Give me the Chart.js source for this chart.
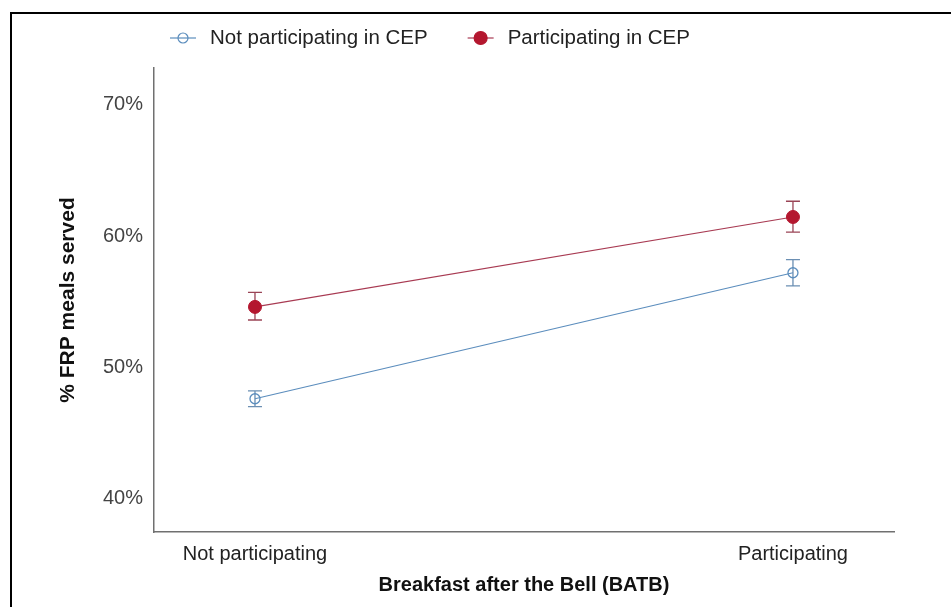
<!DOCTYPE html>
<html>
<head>
<meta charset="utf-8">
<script src="https://cdn.jsdelivr.net/npm/chart.js@4/dist/chart.umd.min.js"></script>
<style>
  html, body { margin: 0; padding: 0; background: #fff; }
  #wrap { position: relative; width: 951px; height: 607px; overflow: hidden; }
  #frame { position: absolute; left: 10px; top: 12px; width: 951px; height: 607px;
           border-top: 2px solid #000; border-left: 2px solid #000; box-sizing: border-box; }
  canvas { position: absolute; left: 0; top: 0; }
</style>
</head>
<body>
<div id="wrap">
  <div id="frame"></div>
  <canvas id="c" width="951" height="607"></canvas>
</div>
<script>
// ---- data ----
const categories = ['Not participating', 'Participating'];
const seriesLabels = ['Not participating in CEP', 'Participating in CEP'];
const notCEP      = [47.6, 57.2];
const notCEPLow   = [47.0, 56.2];
const notCEPHigh  = [48.2, 58.2];
const cep         = [54.6, 61.45];
const cepLow      = [53.6, 60.3];
const cepHigh     = [55.7, 62.65];
const yTicks      = [40, 50, 60, 70];
const xAxisTitle  = 'Breakfast after the Bell (BATB)';
const yAxisTitle  = '% FRP meals served';

const BLUE = '#5b8dbd';
const BLUE_ERR = '#6b8fb3';
const RED = '#b4172f';
const RED_LINE = '#a83a52';
const RED_ERR = '#9a4456';
const FONT = "'Liberation Sans', Arial, sans-serif";

const toPoints = (vals) => vals.map((v, i) => ({ x: i, y: v }));

const errorBars = {
  id: 'errorBars',
  beforeDatasetsDraw(chart) {
    const { ctx, scales: { x, y } } = chart;
    chart.data.datasets.forEach((ds) => {
      ctx.save();
      ctx.strokeStyle = ds.errColor;
      ctx.lineWidth = 1.3;
      ds.low.forEach((lo, i) => {
        const hi = ds.high[i];
        const px = x.getPixelForValue(i);
        const y1 = y.getPixelForValue(lo);
        const y2 = y.getPixelForValue(hi);
        ctx.beginPath();
        ctx.moveTo(px, y1); ctx.lineTo(px, y2);
        ctx.moveTo(px - 7, y1); ctx.lineTo(px + 7, y1);
        ctx.moveTo(px - 7, y2); ctx.lineTo(px + 7, y2);
        ctx.stroke();
      });
      ctx.restore();
    });
  }
};

const customLegend = {
  id: 'customLegend',
  afterDraw(chart) {
    const { ctx } = chart;
    const yc = 38;
    let xs = 170;
    ctx.save();
    ctx.font = '20.5px ' + FONT;
    ctx.textBaseline = 'middle';
    ctx.textAlign = 'left';
    chart.data.datasets.forEach((ds) => {
      ctx.strokeStyle = ds.borderColor;
      ctx.lineWidth = 1.2;
      ctx.beginPath();
      ctx.moveTo(xs, yc); ctx.lineTo(xs + 26, yc);
      ctx.stroke();
      ctx.beginPath();
      ctx.arc(xs + 13, yc, ds.pointRadius, 0, Math.PI * 2);
      if (ds.pointBackgroundColor !== 'rgba(0,0,0,0)') {
        ctx.fillStyle = ds.pointBackgroundColor;
        ctx.fill();
      }
      ctx.strokeStyle = ds.pointBorderColor;
      ctx.stroke();
      ctx.fillStyle = '#222';
      ctx.fillText(ds.label, xs + 40, yc);
      xs += 40 + ctx.measureText(ds.label).width + 40;
    });
    ctx.restore();
  }
};

new Chart(document.getElementById('c'), {
  type: 'line',
  data: {
    datasets: [
      {
        label: seriesLabels[0],
        data: toPoints(notCEP),
        low: notCEPLow, high: notCEPHigh,
        errColor: BLUE_ERR,
        borderColor: BLUE,
        borderWidth: 1.2,
        pointRadius: 5,
        pointBorderWidth: 1.3,
        pointBorderColor: BLUE,
        pointBackgroundColor: 'rgba(0,0,0,0)',
        fill: false,
        tension: 0
      },
      {
        label: seriesLabels[1],
        data: toPoints(cep),
        low: cepLow, high: cepHigh,
        errColor: RED_ERR,
        borderColor: RED_LINE,
        borderWidth: 1.2,
        pointRadius: 6.5,
        pointBorderWidth: 1,
        pointBorderColor: RED,
        pointBackgroundColor: RED,
        fill: false,
        tension: 0
      }
    ]
  },
  options: {
    responsive: false,
    animation: false,
    layout: { padding: { top: 68, right: 57, bottom: 0, left: 0 } },
    plugins: {
      legend: { display: false },
      tooltip: { enabled: false }
    },
    scales: {
      x: {
        type: 'linear',
        min: -0.1877,
        max: 1.1878,
        afterBuildTicks: (s) => { s.ticks = categories.map((_, i) => ({ value: i })); },
        afterFit: (s) => { s.height = 75; },
        grid: { display: false, drawTicks: false },
        border: { display: true, color: '#707070', width: 1.5 },
        ticks: {
          padding: 10,
          color: '#222',
          font: { family: FONT, size: 20 },
          callback: (v) => categories[v]
        },
        title: {
          display: true,
          text: xAxisTitle,
          color: '#111',
          font: { family: FONT, size: 20, weight: 'bold' },
          padding: { top: 0, bottom: 10 }
        }
      },
      y: {
        min: 37.45,
        max: 72.8,
        afterBuildTicks: (s) => { s.ticks = yTicks.map((v) => ({ value: v })); },
        afterFit: (s) => { s.width = 154; },
        grid: { display: false, drawTicks: false },
        border: { display: true, color: '#707070', width: 1.5 },
        ticks: {
          padding: 11,
          color: '#444',
          font: { family: FONT, size: 20 },
          callback: (v) => v + '%'
        },
        title: {
          display: true,
          text: yAxisTitle,
          color: '#111',
          font: { family: FONT, size: 21, weight: 'bold' },
          padding: { top: 56, bottom: 0 }
        }
      }
    }
  },
  plugins: [errorBars, customLegend]
});
</script>
</body>
</html>
